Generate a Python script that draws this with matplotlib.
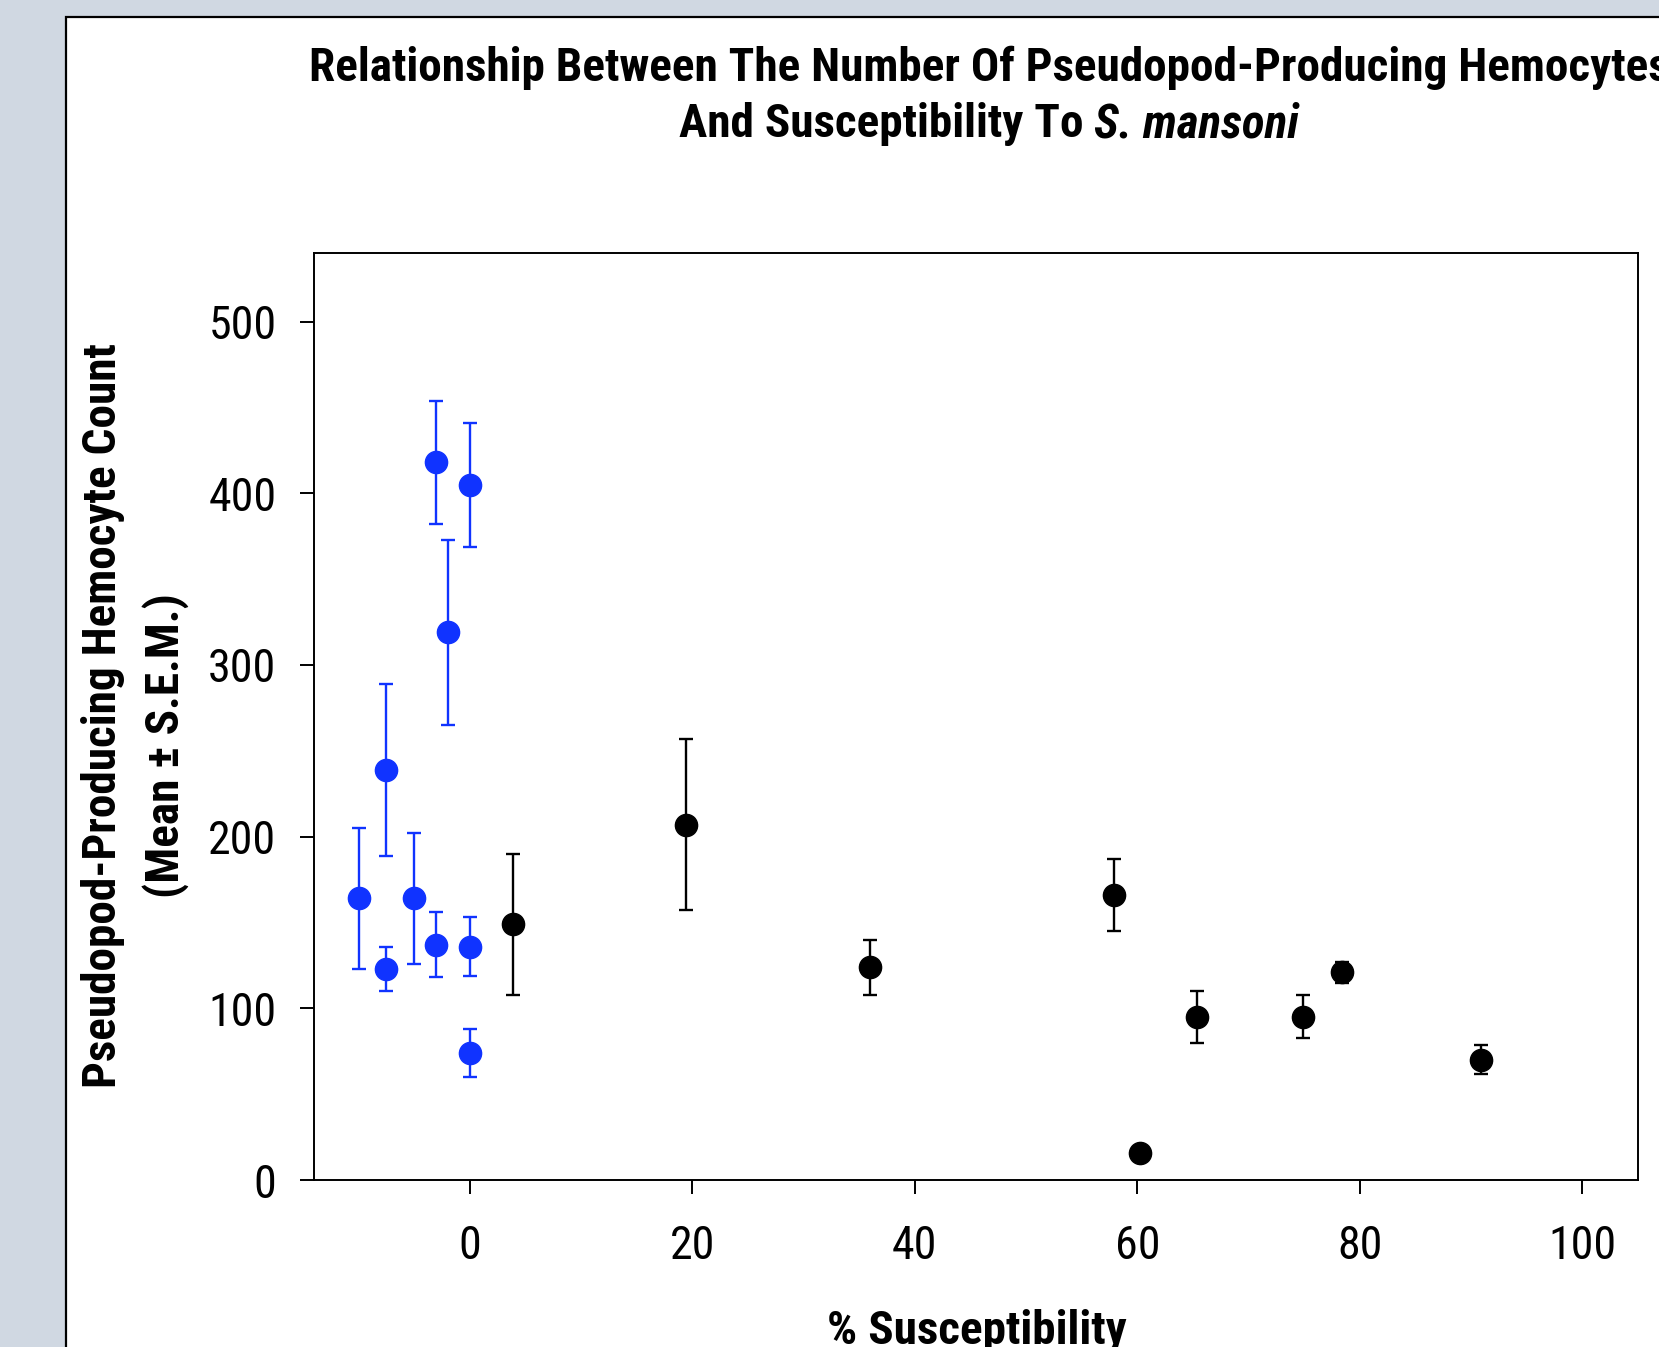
import matplotlib
matplotlib.use("Agg")
import matplotlib.pyplot as plt
from matplotlib import font_manager
from matplotlib.patches import Rectangle

# ---------------- data ----------------
blue_x = [-10, -7.5, -7.5, -5, -3, -3, -2, 0, 0, 0]
blue_y = [164, 123, 239, 164, 418, 137, 319, 405, 136, 74]
blue_err = [41, 13, 50, 38, 36, 19, 54, 36, 17, 14]

black_x = [3.9, 19.4, 36.0, 57.9, 60.2, 65.4, 74.9, 78.4, 90.9]
black_y = [149, 207, 124, 166, 16, 95, 95, 121, 70]
black_err = [41, 50, 16, 21, 0, 15, 12.5, 6, 8.5]

x_ticks = [0, 20, 40, 60, 80, 100]
y_ticks = [0, 100, 200, 300, 400, 500]

title_line1 = "Relationship Between The Number Of Pseudopod-Producing Hemocytes"
title_line2a = "And Susceptibility To "
title_line2b = "S. mansoni"
ylabel_line1 = "Pseudopod-Producing Hemocyte Count"
ylabel_line2 = "(Mean \u00b1 S.E.M.)"
xlabel = "% Susceptibility"

# ---------------- fonts ----------------
avail = {f.name for f in font_manager.fontManager.ttflist}
FONT = next((f for f in ["Liberation Sans Narrow", "Arial Narrow", "Roboto Condensed",
                         "Liberation Sans"] if f in avail), "DejaVu Sans")
plt.rcParams["font.family"] = [FONT, "DejaVu Sans"]

W, H = 1659, 1347
DPI = 100
fig = plt.figure(figsize=(W / DPI, H / DPI), dpi=DPI)
fig.patch.set_facecolor("#D0D8E2")

def fx(px):
    return px / W

def fy(py):
    return 1 - py / H

# white panel with black border on left/top
panel = Rectangle((fx(66), -0.05), 1.2, fy(17) + 0.05, transform=fig.transFigure,
                  facecolor="white", edgecolor="black", linewidth=1.6, zorder=-5)
fig.patches.append(panel)

ax = fig.add_axes([fx(314), fy(1180), fx(1638) - fx(314), fy(253) - fy(1180)])
ax.set_zorder(2)
ax.set_facecolor("white")

BLUE = "#1033FF"
ax.errorbar(blue_x, blue_y, yerr=blue_err, fmt="o", color=BLUE, ecolor=BLUE,
            markersize=16, elinewidth=1.7, capsize=5, capthick=1.7, zorder=3)
ax.errorbar(black_x, black_y, yerr=black_err, fmt="o", color="black", ecolor="black",
            markersize=16, elinewidth=1.7, capsize=5, capthick=1.7, zorder=3)

ax.set_xlim(-14, 105)
ax.set_ylim(0, 540)
ax.set_xticks(x_ticks)
ax.set_yticks(y_ticks)
ax.set_xticklabels([str(v) for v in x_ticks])
ax.set_yticklabels([str(v) for v in y_ticks])
for s in ax.spines.values():
    s.set_linewidth(1.4)
ax.tick_params(axis="both", direction="out", length=10, width=1.4, labelsize=33)
ax.tick_params(axis="x", pad=22)
ax.tick_params(axis="y", pad=17)

BOLD = 34
# y label (two lines)
fig.text(fx(103), fy(716), ylabel_line1, rotation=90, ha="center", va="center",
         fontsize=BOLD, fontweight="bold")
fig.text(fx(166), fy(746), ylabel_line2, rotation=90, ha="center", va="center",
         fontsize=BOLD, fontweight="bold")

# x label
fig.text(fx(977), fy(1344), xlabel, ha="center", va="baseline", fontsize=BOLD,
         fontweight="bold")

# title
fig.text(fx(989), fy(81), title_line1, ha="center", va="baseline", fontsize=BOLD,
         fontweight="bold")
fig.canvas.draw()
r = fig.canvas.get_renderer()
ta = fig.text(0, fy(137), title_line2a, ha="left", va="baseline", fontsize=BOLD,
              fontweight="bold")
tb = fig.text(0, fy(137), title_line2b, ha="left", va="baseline", fontsize=BOLD,
              fontweight="bold", fontstyle="italic")
wa = ta.get_window_extent(r).width
wb = tb.get_window_extent(r).width
x0 = 989 - (wa + wb) / 2
ta.set_x(fx(x0))
tb.set_x(fx(x0 + wa))

fig.savefig("out.png", dpi=DPI, facecolor=fig.get_facecolor())
